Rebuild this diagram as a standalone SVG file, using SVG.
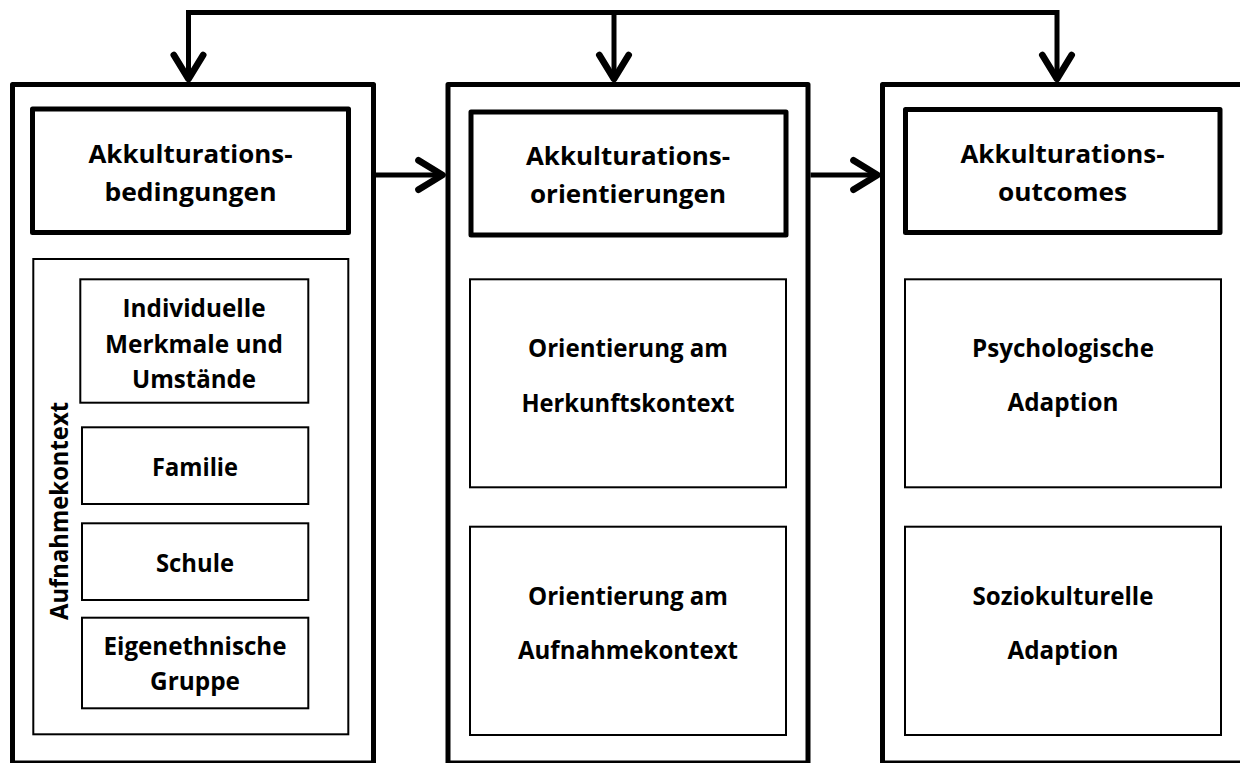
<svg xmlns="http://www.w3.org/2000/svg" width="1240" height="763" viewBox="0 0 1240 763">
  <defs>
    <style>
      .outer { fill: #fff; stroke: #000; stroke-width: 5; stroke-linejoin: round; }
      .head { fill: #fff; stroke: #000; stroke-width: 5; stroke-linejoin: round; }
      .thin { fill: #fff; stroke: #000; stroke-width: 2; }
      .wire { fill: none; stroke: #000; stroke-width: 5; stroke-linejoin: miter; }
      text { font-family: "Open Sans", "Noto Sans", sans-serif; font-weight: bold; font-size: 25px; fill: #000; text-anchor: middle; }
    </style>
    <marker id="arrow" markerUnits="userSpaceOnUse" markerWidth="40" markerHeight="40" viewBox="-25 -15 30 30" refX="0" refY="0" orient="auto" overflow="visible">
      <path d="M-18,-11 L0,0 L-18,11" fill="none" stroke="#000" stroke-width="5" stroke-linejoin="round" stroke-linecap="round"/>
    </marker>
  </defs>
  <rect width="1240" height="763" fill="#fff"/>

  <!-- column 1: conditions -->
  <g id="bedingungen">
    <rect class="outer" x="12.5" y="84.5" width="361" height="678.5"/>
    <rect class="head" x="32.5" y="109" width="316" height="123.5"/>
    <text x="190.5" y="163" textLength="204" lengthAdjust="spacingAndGlyphs">Akkulturations-</text>
    <text x="190.5" y="201" textLength="172" lengthAdjust="spacingAndGlyphs">bedingungen</text>
  </g>
  <g id="aufnahmekontext">
    <rect class="thin" x="33.3" y="259" width="315" height="475.3"/>
    <text transform="translate(68,511) rotate(-90)" textLength="218" lengthAdjust="spacingAndGlyphs">Aufnahmekontext</text>
  </g>
  <g id="individuelle">
    <rect class="thin" x="80.3" y="279.3" width="228" height="123.4"/>
    <text x="194" y="317" textLength="143" lengthAdjust="spacingAndGlyphs">Individuelle</text>
    <text x="194" y="353" textLength="178" lengthAdjust="spacingAndGlyphs">Merkmale und</text>
    <text x="194" y="388" textLength="124" lengthAdjust="spacingAndGlyphs">Umstände</text>
  </g>
  <g id="familie">
    <rect class="thin" x="82" y="427.3" width="226.3" height="76.7"/>
    <text x="195" y="476" textLength="86" lengthAdjust="spacingAndGlyphs">Familie</text>
  </g>
  <g id="schule">
    <rect class="thin" x="82" y="523.3" width="226.3" height="76.7"/>
    <text x="195" y="572" textLength="78" lengthAdjust="spacingAndGlyphs">Schule</text>
  </g>
  <g id="eigenethnisch">
    <rect class="thin" x="82" y="617.7" width="226.3" height="90.6"/>
    <text x="195" y="655" textLength="183" lengthAdjust="spacingAndGlyphs">Eigenethnische</text>
    <text x="195" y="690" textLength="90" lengthAdjust="spacingAndGlyphs">Gruppe</text>
  </g>

  <!-- column 2: orientations -->
  <g id="orientierungen">
    <rect class="outer" x="448" y="84.5" width="360" height="678.5"/>
    <rect class="head" x="471" y="112" width="315" height="123"/>
    <text x="628" y="165" textLength="204" lengthAdjust="spacingAndGlyphs">Akkulturations-</text>
    <text x="628" y="203" textLength="196" lengthAdjust="spacingAndGlyphs">orientierungen</text>
  </g>
  <g id="herkunft">
    <rect class="thin" x="470" y="279.3" width="316" height="208"/>
    <text x="628" y="357" textLength="200" lengthAdjust="spacingAndGlyphs">Orientierung am</text>
    <text x="628" y="412" textLength="213" lengthAdjust="spacingAndGlyphs">Herkunftskontext</text>
  </g>
  <g id="aufnahme">
    <rect class="thin" x="470" y="526.7" width="316" height="208.3"/>
    <text x="628" y="605" textLength="200" lengthAdjust="spacingAndGlyphs">Orientierung am</text>
    <text x="628" y="659" textLength="220" lengthAdjust="spacingAndGlyphs">Aufnahmekontext</text>
  </g>

  <!-- column 3: outcomes -->
  <g id="outcomes">
    <rect class="outer" x="882.5" y="84.5" width="362" height="678.5"/>
    <rect class="head" x="905.5" y="109.5" width="314.5" height="123"/>
    <text x="1062.5" y="163" textLength="204" lengthAdjust="spacingAndGlyphs">Akkulturations-</text>
    <text x="1062.5" y="201" textLength="129" lengthAdjust="spacingAndGlyphs">outcomes</text>
  </g>
  <g id="psychologisch">
    <rect class="thin" x="905" y="279.3" width="316" height="208"/>
    <text x="1063" y="357" textLength="182" lengthAdjust="spacingAndGlyphs">Psychologische</text>
    <text x="1063" y="411" textLength="111" lengthAdjust="spacingAndGlyphs">Adaption</text>
  </g>
  <g id="soziokulturell">
    <rect class="thin" x="905" y="526.7" width="316" height="208.3"/>
    <text x="1063" y="605" textLength="181" lengthAdjust="spacingAndGlyphs">Soziokulturelle</text>
    <text x="1063" y="659" textLength="111" lengthAdjust="spacingAndGlyphs">Adaption</text>
  </g>

  <!-- connectors -->
  <g id="connectors">
    <path class="wire" d="M614,12.5 H188.5 V79" marker-end="url(#arrow)"/>
    <path class="wire" d="M614,12.5 H1057 V79" marker-end="url(#arrow)"/>
    <path class="wire" d="M614,12.5 V79" marker-end="url(#arrow)"/>
    <path class="wire" d="M376,175 H442.5" marker-end="url(#arrow)"/>
    <path class="wire" d="M810.5,175 H877.5" marker-end="url(#arrow)"/>
  </g>
</svg>
